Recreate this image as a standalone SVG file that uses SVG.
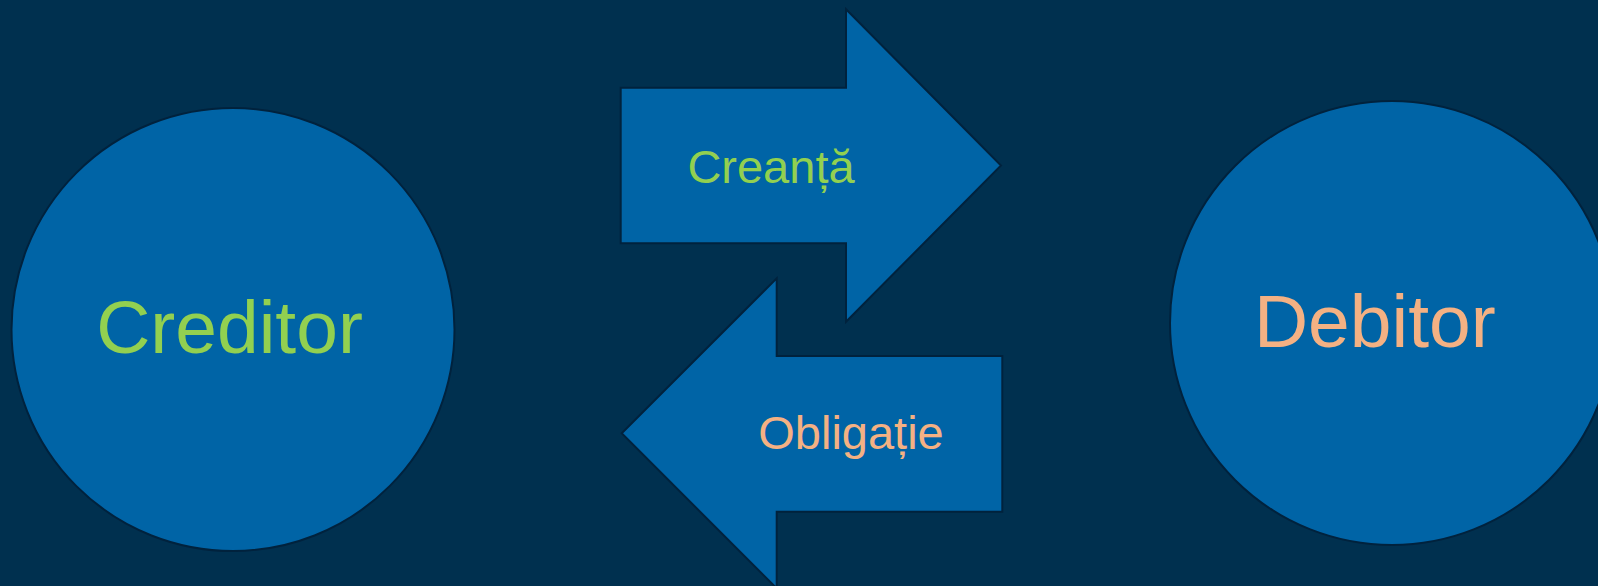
<svg xmlns="http://www.w3.org/2000/svg" width="1598" height="586" viewBox="0 0 1598 586">
<style>
.shape{fill:#0064A6;stroke:#00223D;stroke-width:2}
.lbl{font-family:"Liberation Sans",Arial,sans-serif;text-anchor:middle}
.g{fill:#92D050}
.o{fill:#F4B183}
</style>
<rect x="0" y="0" width="1598" height="586" fill="#00304F"/>
<g id="creditor">
<circle class="shape" cx="233" cy="329.5" r="221.5"/>
<text class="lbl g" x="229.5" y="352.7" font-size="75">Creditor</text>
</g>
<g id="debitor">
<circle class="shape" cx="1392" cy="323" r="222"/>
<text class="lbl o" x="1374.8" y="346.7" font-size="75">Debitor</text>
</g>
<g id="connectors">
<g id="creanta">
<polygon class="shape" points="620.7,87.7 846,87.7 846,9.3 1001,165.5 846,321.7 846,243.3 620.7,243.3"/>
<text class="lbl g" x="771" y="183.3" font-size="47">Creanță</text>
</g>
<g id="obligatie">
<polygon class="shape" points="1002.3,356 776.7,356 776.7,278.3 621.7,433.3 776.7,588.3 776.7,511.7 1002.3,511.7"/>
<text class="lbl o" x="851" y="449" font-size="47">Obligație</text>
</g>
</g>
</svg>
